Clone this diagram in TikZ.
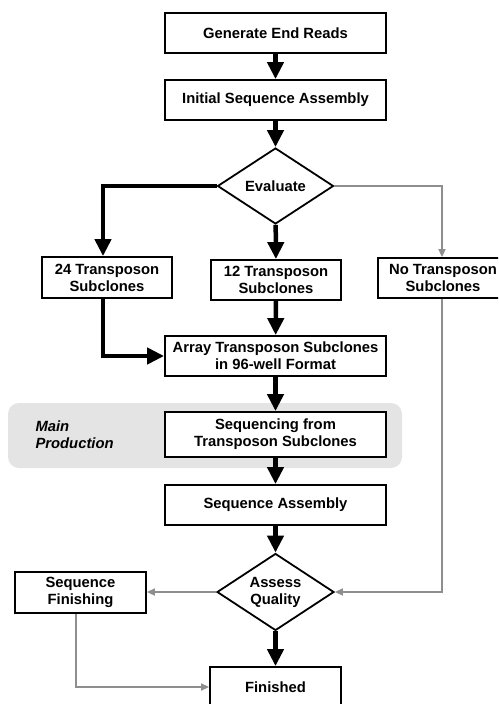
\documentclass[tikz,border=0pt]{standalone}
\usepackage{fontspec}
\setmainfont{Liberation Sans}
\usetikzlibrary{arrows.meta,shapes.geometric}
\definecolor{conngray}{HTML}{8E8E8E}
\definecolor{bggray}{HTML}{E4E4E4}
\begin{document}
\begin{tikzpicture}[x=1pt,y=-1pt,
  box/.style={draw=black,line width=1.8pt,fill=white,rectangle,inner sep=0pt,
    align=center,font=\fontsize{14.8}{17}\selectfont\bfseries},
  dia/.style={draw=black,line width=1.8pt,fill=white,diamond,aspect=1.52,inner sep=0pt,
    minimum width=116pt,minimum height=76pt,align=center,font=\fontsize{14.8}{17}\selectfont\bfseries},
  thick conn/.style={draw=black,line width=4.5pt,-{Triangle[length=17pt,width=16pt]}},
  gray conn/.style={draw=conngray,line width=1.6pt,-{Triangle[length=8pt,width=7pt]}}]
\useasboundingbox (0,0) rectangle (498,704);
\clip (0,0) rectangle (498,704);
\fill[white] (0,0) rectangle (498,704);
% background band
\fill[bggray,rounded corners=11pt] (8,403) rectangle (402,468);
\node (mp) [anchor=west,align=left,font=\fontsize{14.8}{17}\selectfont\bfseries\itshape] at (32,435) {Main\\Production};
% nodes
\node (gen) [box,minimum width=221pt,minimum height=40pt] at (275.5,33) {Generate End Reads};
\node (init) [box,minimum width=221pt,minimum height=40pt] at (275.5,100) {Initial Sequence Assembly};
\node (eval) [dia] at (275.5,186) {Evaluate};
\node (t24) [box,minimum width=130pt,minimum height=41pt] at (107,277.5) {24 Transposon\\Subclones};
\node (t12) [box,minimum width=130pt,minimum height=40pt] at (276,280) {12 Transposon\\Subclones};
\node (tno) [box,minimum width=130pt,minimum height=40pt] at (443,278) {No Transposon\\Subclones};
\node (arr) [box,minimum width=221pt,minimum height=40pt] at (275.5,356) {Array Transposon Subclones\\in 96-well Format};
\node (seq) [box,minimum width=221pt,minimum height=45pt] at (275.5,434.5) {Sequencing from\\Transposon Subclones};
\node (sa) [box,minimum width=221pt,minimum height=40pt] at (275.5,505) {Sequence Assembly};
\node (aq) [dia,minimum width=117pt,minimum height=77pt] at (275.5,592) {Assess\\Quality};
\node (sf) [box,minimum width=131pt,minimum height=41pt] at (80.5,592.5) {Sequence\\Finishing};
\node (fin) [box,minimum width=131pt,minimum height=40pt] at (275.5,687) {Finished};
% connectors
\draw[thick conn] (gen) -- (init);
\draw[thick conn] (init) -- (eval);
\draw[thick conn] (eval.west) -| ([xshift=-4pt]t24.north);
\draw[thick conn] (eval) -- (t12);
\draw[gray conn] (eval.east) -| (tno.north -| 442,0);
\draw[thick conn] (t12) -- (arr);
\draw[thick conn] ([xshift=-4pt]t24.south) |- (arr.west);
\draw[thick conn] (arr) -- (seq);
\draw[thick conn] (seq) -- (sa);
\draw[thick conn] (sa) -- (aq);
\draw[thick conn] (aq) -- (fin);
\draw[gray conn] (aq.west) -- (aq.west -| sf.east);
\draw[gray conn] (tno.south -| 442,0) |- (aq.east);
\draw[gray conn] ([xshift=-4.5pt]sf.south) |- (fin.west);
\end{tikzpicture}
\end{document}
